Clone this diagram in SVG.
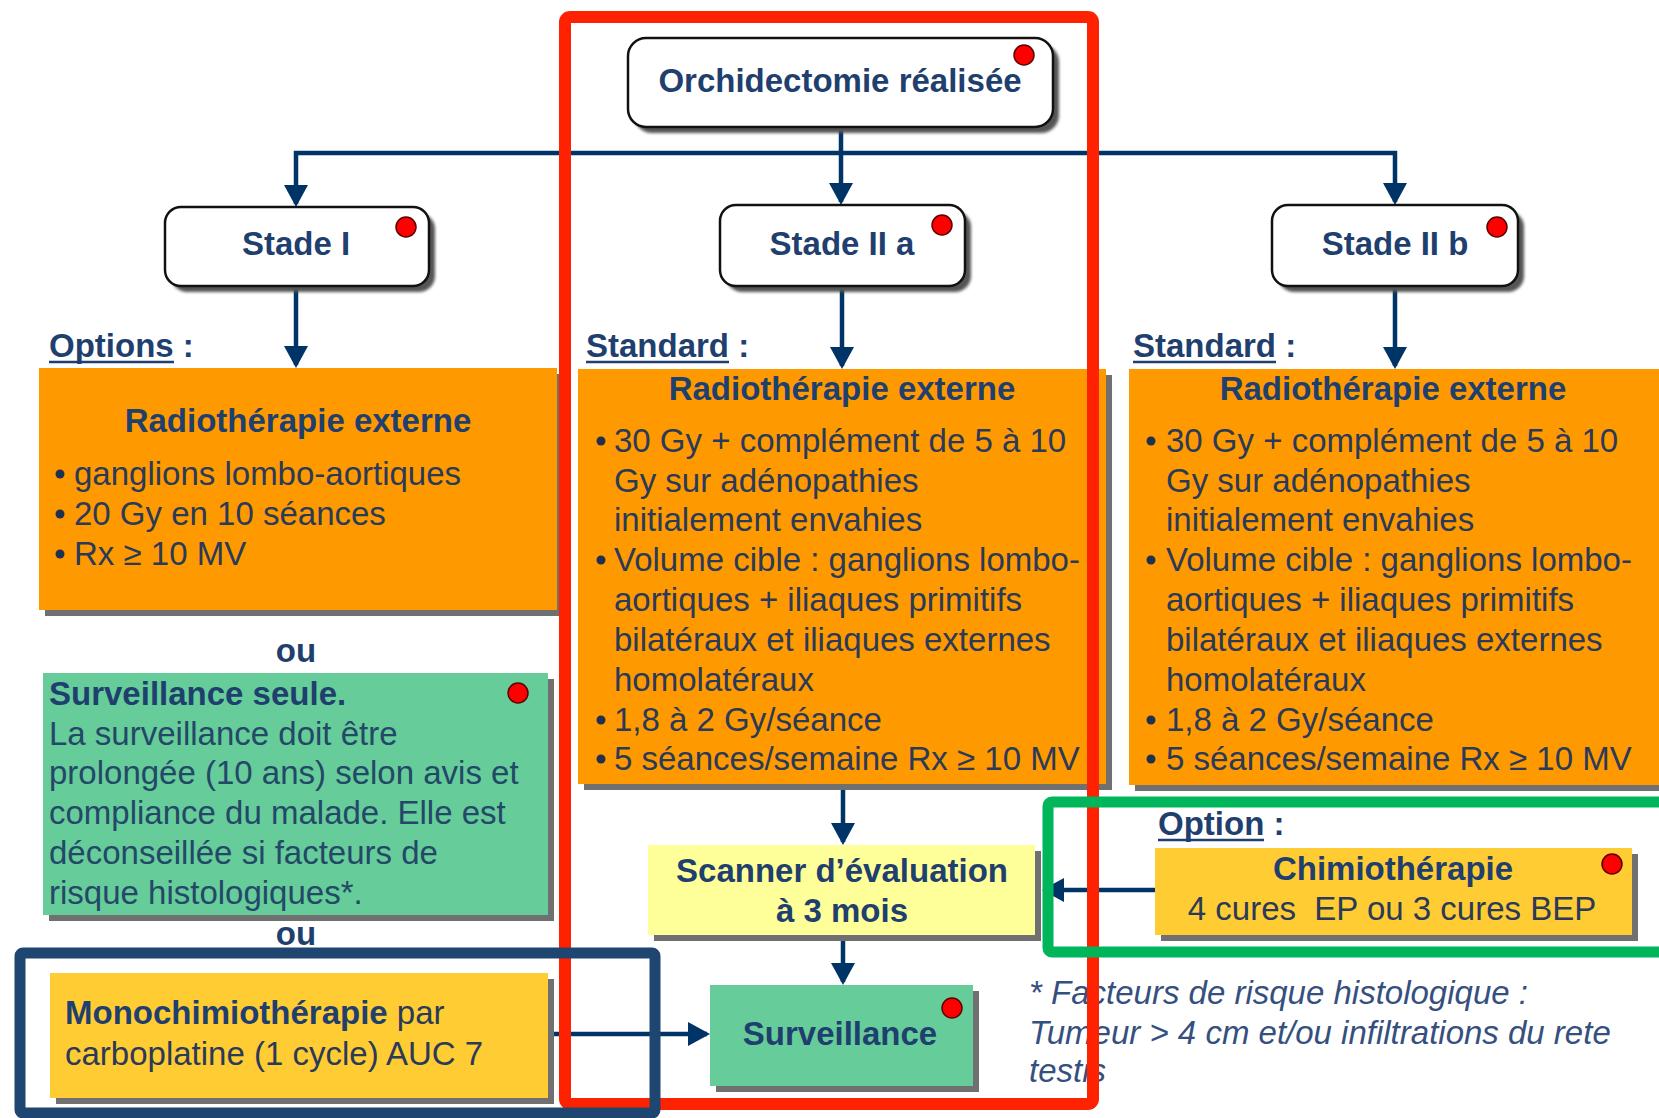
<svg xmlns="http://www.w3.org/2000/svg" width="1659" height="1118" viewBox="0 0 1659 1118">
<style>
text{font-family:"Liberation Sans",Arial,Helvetica,sans-serif;font-size:33px;fill:#213b63}
.b{font-weight:bold;fill:#1f3f6e}
.m{text-anchor:middle}
.body{fill:#2a3a58}
.gb{fill:#234868}
.it{font-style:italic;fill:#35507e;font-size:33px}
.rnd{fill:#fff;stroke:#111;stroke-width:2.5}
.sh{fill:#555;filter:url(#blur)}
.shf{fill:#707070}
.dot{fill:#ff0000;stroke:#5a0000;stroke-width:1.5}
.con{fill:none;stroke:#003366;stroke-width:4.5;marker-end:url(#arr)}
.ul{stroke:#1f3f6e;stroke-width:2.5}
.bul{fill:#1f3050}
.frame{fill:none}
</style>
<defs>
<filter id="blur" x="-5%" y="-5%" width="110%" height="120%"><feGaussianBlur stdDeviation="1.5"/></filter>
<marker id="arr" viewBox="0 0 22 24" refX="19" refY="12" markerWidth="22" markerHeight="24" orient="auto" markerUnits="userSpaceOnUse"><path d="M0,0 L22,12 L0,24 z" fill="#003366"/></marker>
</defs>
<rect width="1659" height="1118" fill="#fff"/>

<g id="connectors">
<path class="con" d="M841,127 V202"/>
<path class="con" d="M841,153 H296 V204"/>
<path class="con" d="M841,153 H1395 V202"/>
<path class="con" d="M296,286 V365"/>
<path class="con" d="M842,287 V366"/>
<path class="con" d="M1395,287 V366"/>
<path class="con" d="M843,785 V842"/>
<path class="con" d="M843,935 V982"/>
<path class="con" d="M548,1034 H707"/>
<path class="con" d="M1155,890 H1045"/>
</g>

<g id="orchidectomie">
<rect class="sh" x="634" y="44" width="425" height="89" rx="18"/>
<rect class="rnd" x="628" y="38" width="425" height="89" rx="18"/>
<text class="b m" x="840" y="92">Orchidectomie réalisée</text>
<circle class="dot" cx="1024" cy="55" r="10"/>
</g>

<g id="stade1">
<rect class="sh" x="171" y="213" width="264" height="79" rx="16"/>
<rect class="rnd" x="165" y="207" width="264" height="79" rx="16"/>
<text class="b m" x="296" y="255">Stade I</text>
<circle class="dot" cx="406" cy="227" r="10"/>
</g>

<g id="stade2a">
<rect class="sh" x="726" y="211" width="245" height="81" rx="16"/>
<rect class="rnd" x="720" y="205" width="245" height="81" rx="16"/>
<text class="b m" x="842" y="255">Stade II a</text>
<circle class="dot" cx="942" cy="225" r="10"/>
</g>

<g id="stade2b">
<rect class="sh" x="1278" y="211" width="246" height="81" rx="16"/>
<rect class="rnd" x="1272" y="205" width="246" height="81" rx="16"/>
<text class="b m" x="1395" y="255">Stade II b</text>
<circle class="dot" cx="1497" cy="227" r="10"/>
</g>

<g id="labels">
<text class="b" x="49" y="357">Options :</text>
<line class="ul" x1="49" y1="362" x2="174" y2="362"/>
<text class="b" x="586" y="357">Standard :</text>
<line class="ul" x1="586" y1="362" x2="729" y2="362"/>
<text class="b" x="1133" y="357">Standard :</text>
<line class="ul" x1="1133" y1="362" x2="1276" y2="362"/>
<text class="b m" x="296" y="662">ou</text>
<text class="b m" x="296" y="945">ou</text>
<text class="b" x="1158" y="835">Option :</text>
<line class="ul" x1="1158" y1="840" x2="1264" y2="840"/>
</g>

<g id="radio1">
<rect class="shf" x="45" y="374" width="518" height="242"/>
<rect x="39" y="368" width="518" height="242" fill="#ff9900"/>
<text class="b m" x="298" y="432">Radiothérapie externe</text>
<circle class="bul" cx="60" cy="474" r="4.5"/>
<circle class="bul" cx="60" cy="514" r="4.5"/>
<circle class="bul" cx="60" cy="554" r="4.5"/>
<text class="body" x="74" y="485">ganglions lombo-aortiques</text>
<text class="body" x="74" y="525">20 Gy en 10 séances</text>
<text class="body" x="74" y="565">Rx ≥ 10 MV</text>
</g>

<g id="radio2">
<rect class="shf" x="584" y="375" width="528" height="415"/>
<rect x="578" y="369" width="528" height="415" fill="#ff9900"/>
<text class="b m" x="842" y="400">Radiothérapie externe</text>
<circle class="bul" cx="601" cy="441" r="4.5"/>
<circle class="bul" cx="601" cy="560" r="4.5"/>
<circle class="bul" cx="601" cy="720" r="4.5"/>
<circle class="bul" cx="601" cy="759" r="4.5"/>
<text class="body" x="614" y="452">30 Gy + complément de 5 à 10</text>
<text class="body" x="614" y="492">Gy sur adénopathies</text>
<text class="body" x="614" y="531">initialement envahies</text>
<text class="body" x="614" y="571">Volume cible : ganglions lombo-</text>
<text class="body" x="614" y="611">aortiques + iliaques primitifs</text>
<text class="body" x="614" y="651">bilatéraux et iliaques externes</text>
<text class="body" x="614" y="691">homolatéraux</text>
<text class="body" x="614" y="731">1,8 à 2 Gy/séance</text>
<text class="body" x="614" y="770">5 séances/semaine Rx ≥ 10 MV</text>
</g>

<g id="radio3">
<rect class="shf" x="1135" y="375" width="540" height="416"/>
<rect x="1129" y="369" width="540" height="416" fill="#ff9900"/>
<text class="b m" x="1393" y="400">Radiothérapie externe</text>
<circle class="bul" cx="1151" cy="441" r="4.5"/>
<circle class="bul" cx="1151" cy="560" r="4.5"/>
<circle class="bul" cx="1151" cy="720" r="4.5"/>
<circle class="bul" cx="1151" cy="759" r="4.5"/>
<text class="body" x="1166" y="452">30 Gy + complément de 5 à 10</text>
<text class="body" x="1166" y="492">Gy sur adénopathies</text>
<text class="body" x="1166" y="531">initialement envahies</text>
<text class="body" x="1166" y="571">Volume cible : ganglions lombo-</text>
<text class="body" x="1166" y="611">aortiques + iliaques primitifs</text>
<text class="body" x="1166" y="651">bilatéraux et iliaques externes</text>
<text class="body" x="1166" y="691">homolatéraux</text>
<text class="body" x="1166" y="731">1,8 à 2 Gy/séance</text>
<text class="body" x="1166" y="770">5 séances/semaine Rx ≥ 10 MV</text>
</g>

<g id="surveillance-seule">
<rect class="shf" x="49" y="679" width="505" height="242"/>
<rect x="43" y="673" width="505" height="242" fill="#66cc99"/>
<text class="b" x="49" y="705">Surveillance seule.</text>
<text class="gb" x="49" y="745">La surveillance doit être</text>
<text class="gb" x="49" y="784">prolongée (10 ans) selon avis et</text>
<text class="gb" x="49" y="824">compliance du malade. Elle est</text>
<text class="gb" x="49" y="864">déconseillée si facteurs de</text>
<text class="gb" x="49" y="904">risque histologiques*.</text>
<circle class="dot" cx="518" cy="693" r="10"/>
</g>

<g id="monochimio">
<rect class="shf" x="56" y="979" width="498" height="125"/>
<rect x="50" y="973" width="498" height="125" fill="#ffcc33"/>
<text x="65" y="1024"><tspan class="b">Monochimiothérapie</tspan><tspan class="body"> par</tspan></text>
<text class="body" x="65" y="1065">carboplatine (1 cycle) AUC 7</text>
</g>

<g id="scanner">
<rect class="shf" x="654" y="851" width="387" height="90"/>
<rect x="648" y="845" width="387" height="90" fill="#ffff99"/>
<text class="b m" x="842" y="882">Scanner d’évaluation</text>
<text class="b m" x="842" y="922">à 3 mois</text>
</g>

<g id="surveillance">
<rect class="shf" x="716" y="991" width="263" height="101"/>
<rect x="710" y="985" width="263" height="101" fill="#66cc99"/>
<text class="b m" x="840" y="1045">Surveillance</text>
<circle class="dot" cx="952" cy="1008" r="10"/>
</g>

<g id="chimio">
<rect class="shf" x="1161" y="854" width="477" height="87"/>
<rect x="1155" y="848" width="477" height="87" fill="#ffcc33"/>
<text class="b m" x="1393" y="880">Chimiothérapie</text>
<text class="body m" x="1392" y="920" xml:space="preserve">4 cures  EP ou 3 cures BEP</text>
<circle class="dot" cx="1612" cy="864" r="10"/>
</g>

<g id="footnote">
<text class="it" x="1029" y="1004">* Facteurs de risque histologique :</text>
<text class="it" x="1029" y="1044">Tumeur &gt; 4 cm et/ou infiltrations du rete</text>
<text class="it" x="1029" y="1082">testis</text>
</g>

<g id="highlights">
<rect class="frame" x="565" y="17" width="528" height="1087" rx="5" stroke="#ff2200" stroke-width="12"/>
<rect class="frame" x="20" y="953" width="635" height="160" rx="3" stroke="#1f4670" stroke-width="11"/>
<rect class="frame" x="1048" y="802" width="700" height="150" rx="4" stroke="#00b55a" stroke-width="11"/>
</g>
</svg>
